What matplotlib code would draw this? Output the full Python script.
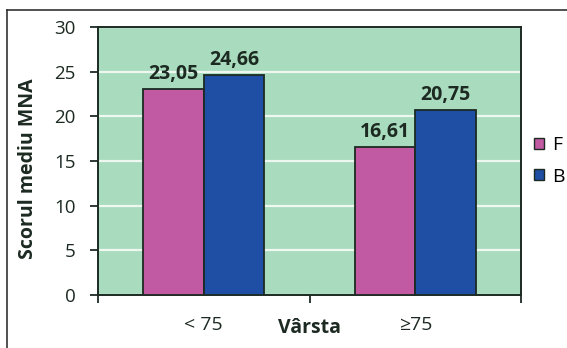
import matplotlib

matplotlib.use('Agg')
import matplotlib.pyplot as plt
from matplotlib.patches import Patch
from matplotlib.lines import Line2D
import numpy as np

# data
categories = ['< 75', '≥75']
series_names = ['F', 'B']
values_f = [23.05, 16.61]
values_b = [24.66, 20.75]
y_ticks = [0, 5, 10, 15, 20, 25, 30]

plt.rcParams['font.family'] = ['Open Sans', 'DejaVu Sans']

bg_green = '#a9dbbe'
pink = '#c15aa2'
blue = '#1f4fa4'
dark = '#1c2a22'

fig = plt.figure(figsize=(5.67, 3.48), dpi=100)
ax = fig.add_axes([98 / 567, 1 - 295 / 348, 423 / 567, 268 / 348])
ax.set_facecolor(bg_green)

x = np.arange(len(categories))
w = 0.285
bars_f = ax.bar(x - w / 2, values_f, w, color=pink, edgecolor=dark, linewidth=1.3, zorder=3)
bars_b = ax.bar(x + w / 2, values_b, w, color=blue, edgecolor=dark, linewidth=1.3, zorder=3)

# value labels with comma decimal
for bars in (bars_f, bars_b):
    for b in bars:
        h = b.get_height()
        ax.text(b.get_x() + b.get_width() / 2, h + 0.55, '{:.2f}'.format(h).replace('.', ','),
                ha='center', va='bottom', fontsize=14, fontweight='bold', color=dark, zorder=4)

ax.set_xlim(-0.5, 1.5)
ax.set_ylim(0, 30)
ax.set_yticks(y_ticks)
ax.yaxis.grid(True, color='#eef8f1', linewidth=1.6, zorder=1)
ax.set_axisbelow(True)

ax.set_xticks(x)
ax.set_xticklabels(categories)
ax.set_xticks([-0.5, 0.5, 1.5], minor=True)
ax.tick_params(axis='x', which='major', length=0, pad=15, labelsize=14, colors=dark)
ax.tick_params(axis='x', which='minor', length=6, width=1.3, color=dark, direction='out')
ax.tick_params(axis='y', length=6, width=1.3, color=dark, labelsize=13.5, labelcolor=dark, pad=10)

for s in ax.spines.values():
    s.set_color(dark)
    s.set_linewidth(1.4)

ax.text(0.5, -0.122, 'Vârsta', transform=ax.transAxes, ha='center', va='center',
        fontsize=14, fontweight='bold', color=dark)
ax.set_ylabel('Scorul mediu MNA', fontsize=14, fontweight='bold', color=dark)
ax.yaxis.set_label_coords(-0.142, 0.47)

handles = [Patch(facecolor=pink, edgecolor=dark, linewidth=1.0),
           Patch(facecolor=blue, edgecolor=dark, linewidth=1.0)]
fig.legend(handles, series_names, loc='center left', bbox_to_anchor=(526 / 567, 1 - 161 / 348),
           frameon=False, fontsize=14, handlelength=0.5, handleheight=0.5, handletextpad=0.45,
           labelspacing=0.7, borderaxespad=0)

# outer chart border (top and left visible)
fig.add_artist(Line2D([7 / 567, 1], [1 - 10 / 348, 1 - 10 / 348], transform=fig.transFigure,
                      color='#333333', linewidth=1.2))
fig.add_artist(Line2D([7 / 567, 7 / 567], [0, 1 - 10 / 348], transform=fig.transFigure,
                      color='#333333', linewidth=1.2))

fig.savefig('out.png', dpi=100)
plt.close(fig)
